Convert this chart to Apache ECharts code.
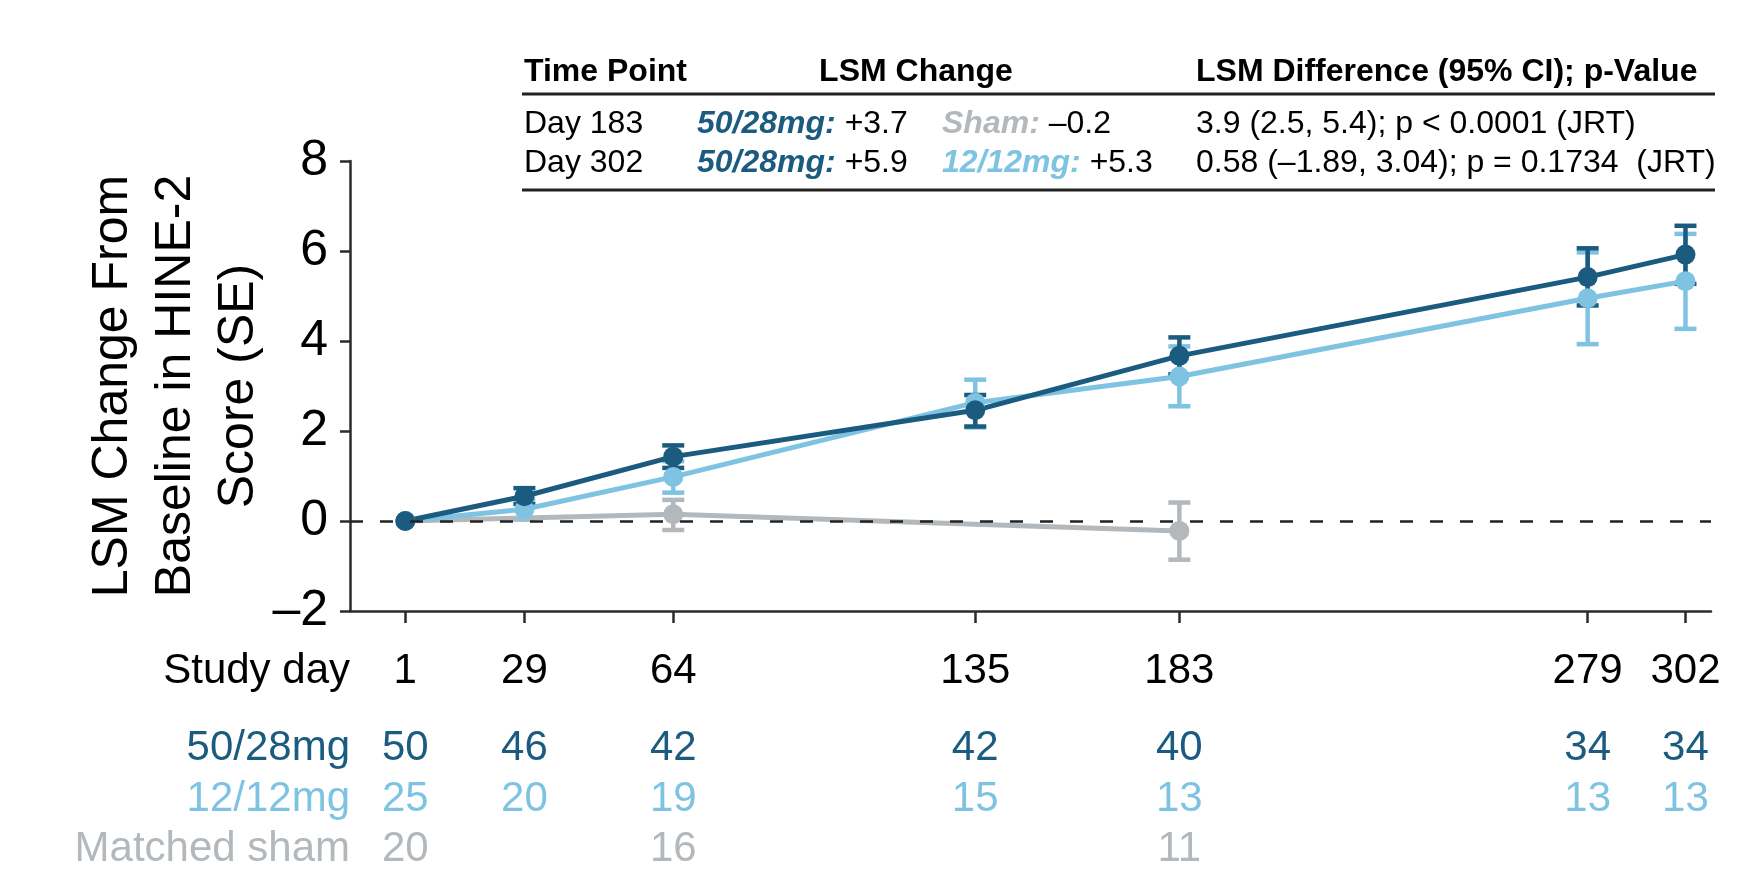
<!DOCTYPE html>
<html>
<head>
<meta charset="utf-8">
<script src="https://cdn.jsdelivr.net/npm/echarts@6/dist/echarts.min.js"></script>
<style>
  html, body { margin: 0; padding: 0; background: #ffffff; }
  #chart { width: 1754px; height: 870px; }
</style>
</head>
<body>
<div id="chart"></div>
<script>
// Study visits (days) and LSM change from baseline in HINE-2 with SE bounds
const studyDays = [1, 29, 64, 135, 183, 279, 302];

const mean5028 = [0, 0.55, 1.43, 2.46, 3.67, 5.42, 5.92];
const low5028  = [0, 0.38, 1.18, 2.10, 3.26, 4.79, 5.27];
const high5028 = [0, 0.73, 1.68, 2.80, 4.08, 6.06, 6.56];

const mean1212 = [0, 0.26, 0.98, 2.63, 3.21, 4.95, 5.33];
const low1212  = [0, 0.03, 0.63, 2.08, 2.55, 3.93, 4.27];
const high1212 = [0, 0.49, 1.33, 3.14, 3.88, 5.97, 6.38];

const shamDays = [1, 64, 183];
const meanSham = [0, 0.15, -0.22];
const lowSham  = [0, -0.20, -0.86];
const highSham = [0, 0.47, 0.41];

// Patients at each visit
const n5028 = [50, 46, 42, 42, 40, 34, 34];
const n1212 = [25, 20, 19, 15, 13, 13, 13];
const nSham = [20, 16, 11];

const yTicks = { min: -2, max: 8, interval: 2 };

const C_DARK = '#1c5b80';
const C_LIGHT = '#7ec3e2';
const C_GREY = '#b2b8bc';
const FONT = "'Liberation Sans', Arial, Helvetica, sans-serif";

const pairs = (xs, ys) => xs.map((x, i) => [x, ys[i]]);
const triples = (xs, lo, hi) => xs.map((x, i) => [x, lo[i], hi[i]]);

function errorBarRenderer(color) {
  return function (params, api) {
    const x = api.value(0), lo = api.value(1), hi = api.value(2);
    if (lo === hi) return null;
    const p1 = api.coord([x, lo]);
    const p2 = api.coord([x, hi]);
    const w = 11;
    const style = { stroke: color, lineWidth: 4.5 };
    return {
      type: 'group',
      children: [
        { type: 'line', shape: { x1: p1[0], y1: p1[1], x2: p2[0], y2: p2[1] }, style },
        { type: 'line', shape: { x1: p1[0] - w, y1: p1[1], x2: p1[0] + w, y2: p1[1] }, style },
        { type: 'line', shape: { x1: p2[0] - w, y1: p2[1], x2: p2[0] + w, y2: p2[1] }, style }
      ]
    };
  };
}

function lineSeries(name, data, color) {
  return {
    name, type: 'line', data, xAxisIndex: 0, yAxisIndex: 0,
    symbol: 'circle', symbolSize: 20,
    lineStyle: { color, width: 5 },
    itemStyle: { color },
    animation: false, silent: true
  };
}

function errSeries(name, data, color) {
  return {
    name, type: 'custom', data, xAxisIndex: 0, yAxisIndex: 0,
    renderItem: errorBarRenderer(color),
    encode: { x: 0, y: [1, 2] },
    animation: false, silent: true
  };
}

function countAxis(label, days, counts, color, offset) {
  const lookup = {};
  days.forEach((d, i) => { lookup[d] = counts[i]; });
  return {
    type: 'value', position: 'bottom', gridIndex: 0, offset,
    min: -12, max: 308,
    name: label, nameLocation: 'start', nameGap: 0,
    nameTextStyle: { color, fontSize: 42, fontFamily: FONT },
    axisLine: { show: false, onZero: false }, axisTick: { show: false }, splitLine: { show: false },
    axisLabel: {
      customValues: days, margin: 0, verticalAlign: 'middle',
      color, fontSize: 42, fontFamily: FONT,
      formatter: v => String(lookup[v])
    }
  };
}

const studyDayAxis = {
  type: 'value', position: 'bottom', gridIndex: 0, offset: 60,
  min: -12, max: 308,
  name: 'Study day', nameLocation: 'start', nameGap: 0,
  nameTextStyle: { color: '#000', fontSize: 42, fontFamily: FONT },
  axisLine: { show: false, onZero: false }, axisTick: { show: false }, splitLine: { show: false },
  axisLabel: {
    customValues: studyDays, margin: 0, verticalAlign: 'middle',
    color: '#000', fontSize: 42, fontFamily: FONT,
    formatter: v => String(v)
  }
};

// Summary table above the plot
const T = { font: FONT, size: 32 };
function txt(text, x, y, opts) {
  opts = opts || {};
  return {
    type: 'text', x, y, silent: true,
    style: Object.assign({
      text, fill: '#000', align: 'left', verticalAlign: 'middle',
      font: (opts.bold ? 'bold ' : '') + T.size + 'px ' + T.font
    }, opts.style || {})
  };
}
function richTxt(label, value, color, x, y) {
  return {
    type: 'text', x, y, silent: true,
    style: {
      text: '{a|' + label + '} ' + value,
      fill: '#000', align: 'left', verticalAlign: 'middle',
      font: T.size + 'px ' + T.font,
      rich: {
        a: { fill: color, fontWeight: 'bold', fontStyle: 'italic', fontSize: T.size, fontFamily: T.font }
      }
    }
  };
}

const tableGraphics = [
  txt('Time Point', 524, 72, { bold: true }),
  txt('LSM Change', 916, 72, { bold: true, style: { align: 'center' } }),
  txt('LSM Difference (95% CI); p-Value', 1196, 72, { bold: true }),
  { type: 'line', silent: true, shape: { x1: 522, y1: 94, x2: 1715, y2: 94 }, style: { stroke: '#222', lineWidth: 3 } },
  txt('Day 183', 524, 124),
  richTxt('50/28mg:', '+3.7', C_DARK, 697, 124),
  richTxt('Sham:', '\u20130.2', C_GREY, 942, 124),
  txt('3.9 (2.5, 5.4); p < 0.0001 (JRT)', 1196, 124),
  txt('Day 302', 524, 163),
  richTxt('50/28mg:', '+5.9', C_DARK, 697, 163),
  richTxt('12/12mg:', '+5.3', C_LIGHT, 942, 163),
  txt('0.58 (\u20131.89, 3.04); p = 0.1734  (JRT)', 1196, 163),
  { type: 'line', silent: true, shape: { x1: 522, y1: 190, x2: 1715, y2: 190 }, style: { stroke: '#222', lineWidth: 3 } }
];

const chart = echarts.init(document.getElementById('chart'), null, { renderer: 'canvas' });

chart.setOption({
  backgroundColor: '#ffffff',
  animation: false,
  textStyle: { fontFamily: FONT },
  grid: { left: 350, right: 43, top: 161, bottom: 257, containLabel: false },
  xAxis: [
    {
      type: 'value', position: 'bottom', gridIndex: 0,
      min: -12, max: 308,
      axisLine: { show: true, onZero: false, lineStyle: { color: '#2b2b2b', width: 2.5 } },
      axisTick: { show: true, customValues: studyDays, length: 12, lineStyle: { color: '#2b2b2b', width: 2.5 } },
      axisLabel: { show: false },
      splitLine: { show: false }
    },
    studyDayAxis,
    countAxis('50/28mg', studyDays, n5028, C_DARK, 137),
    countAxis('12/12mg', studyDays, n1212, C_LIGHT, 188),
    countAxis('Matched sham', shamDays, nSham, C_GREY, 238)
  ],
  yAxis: {
    type: 'value', min: yTicks.min, max: yTicks.max, interval: yTicks.interval,
    name: 'LSM Change From\nBaseline in HINE-2\nScore (SE)',
    nameLocation: 'middle', nameRotate: 90, nameGap: 79, nameMoveOverlap: false,
    nameTextStyle: { color: '#000', fontSize: 50, lineHeight: 63, fontFamily: FONT, align: 'center' },
    axisLine: { show: true, onZero: false, lineStyle: { color: '#2b2b2b', width: 2.5 } },
    axisTick: { show: true, length: 10, lineStyle: { color: '#2b2b2b', width: 2.5 } },
    axisLabel: {
      margin: 22, color: '#000', fontSize: 50, fontFamily: FONT,
      formatter: v => (v < 0 ? '\u2013' + Math.abs(v) : String(v))
    },
    splitLine: { show: false }
  },
  series: [
    {
      name: 'zero', type: 'line', data: [], xAxisIndex: 0, yAxisIndex: 0, silent: true,
      markLine: {
        silent: true, symbol: 'none', animation: false,
        label: { show: false },
        lineStyle: { color: '#222', width: 2.5, type: [13, 17] },
        data: [{ yAxis: 0 }]
      }
    },
    errSeries('Matched sham SE', triples(shamDays, lowSham, highSham), C_GREY),
    lineSeries('Matched sham', pairs(shamDays, meanSham), C_GREY),
    errSeries('12/12mg SE', triples(studyDays, low1212, high1212), C_LIGHT),
    lineSeries('12/12mg', pairs(studyDays, mean1212), C_LIGHT),
    errSeries('50/28mg SE', triples(studyDays, low5028, high5028), C_DARK),
    lineSeries('50/28mg', pairs(studyDays, mean5028), C_DARK)
  ],
  graphic: tableGraphics
});
</script>
</body>
</html>
